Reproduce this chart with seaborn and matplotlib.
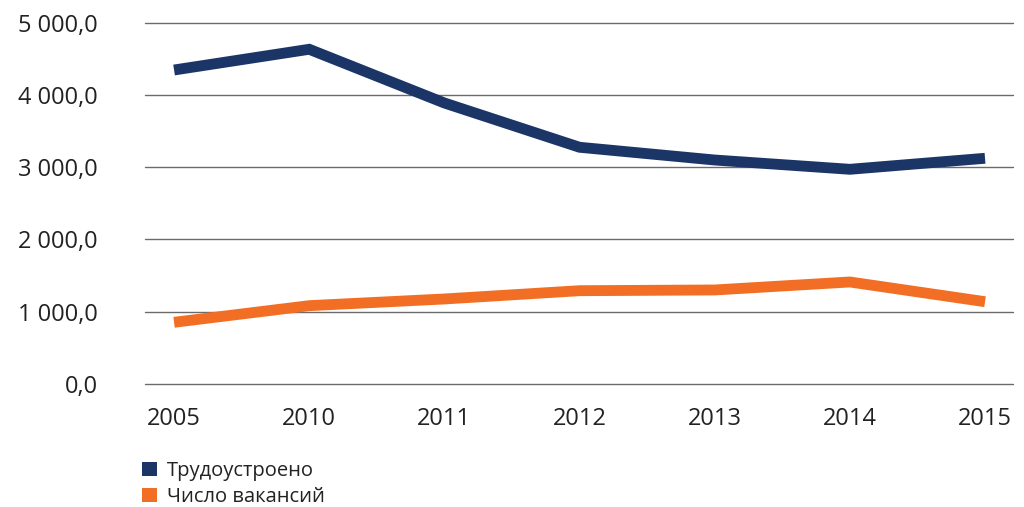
import matplotlib
matplotlib.use("Agg")
import matplotlib.pyplot as plt
from matplotlib.patches import Patch
from matplotlib.ticker import FuncFormatter
import seaborn as sns
import pandas as pd

years = ["2005", "2010", "2011", "2012", "2013", "2014", "2015"]
employed = [4354, 4642, 3896, 3281, 3104, 2975, 3128]
vacancies = [850, 1081, 1174, 1289, 1299, 1410, 1136]
series_names = ["Трудоустроено", "Число вакансий"]
colors = ["#1B3666", "#F26E24"]

df = pd.DataFrame({
    "year": years * 2,
    "value": employed + vacancies,
    "series": [series_names[0]] * len(years) + [series_names[1]] * len(years),
})

sns.set_theme(style="white")
plt.rcParams["font.family"] = ["Open Sans", "DejaVu Sans"]

fig = plt.figure(figsize=(10.24, 5.07), dpi=100)
ax = fig.add_axes([145 / 1024, 1 - 383.5 / 507, (1013 - 145) / 1024, 360 / 507])

sns.lineplot(data=df, x="year", y="value", hue="series", palette=colors,
             linewidth=7.8, ax=ax, legend=False, sort=False,
             solid_joinstyle="miter", solid_capstyle="butt")

ax.set_ylim(0, 5000)
ax.set_xlim(-0.215, 6.207)
yticks = [0, 1000, 2000, 3000, 4000, 5000]
ax.set_yticks(yticks)
ax.yaxis.set_major_formatter(FuncFormatter(
    lambda v, _: f"{v:,.1f}".replace(",", " ").replace(".", ",")))
# horizontal grid drawn unclipped so the edge lines show in full
for t in yticks:
    ax.axhline(t, color="#6b6b6b", linewidth=1.0, zorder=0, clip_on=False)
ax.grid(False)
for s in ax.spines.values():
    s.set_visible(False)
ax.set_xlabel("")
ax.set_ylabel("")
ax.tick_params(axis="y", labelsize=17, colors="#222222", pad=34, length=0)
ax.tick_params(axis="x", labelsize=17, colors="#222222", pad=17, length=0)

handles = [Patch(facecolor=c, edgecolor="none") for c in colors]
fig.legend(handles, series_names, loc="upper left",
           bbox_to_anchor=(142 / 1024, 1 - 461 / 507), frameon=False,
           borderpad=0, borderaxespad=0,
           fontsize=14.5, handlelength=0.75, handleheight=0.75,
           handletextpad=0.5, labelspacing=0.3, labelcolor="#222222")

fig.savefig("out.png", dpi=100)
